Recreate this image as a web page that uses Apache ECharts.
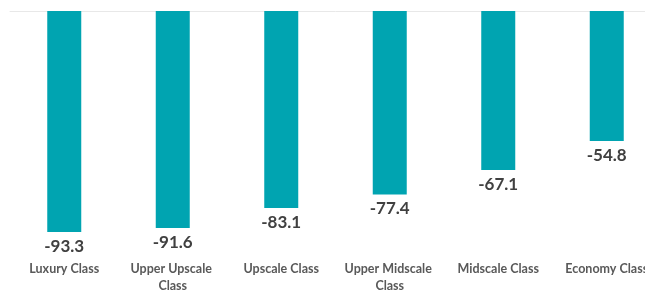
<!DOCTYPE html>
<html>
<head>
<meta charset="utf-8">
<script src="https://cdn.jsdelivr.net/npm/echarts@6/dist/echarts.min.js"></script>
<style>html,body{margin:0;padding:0;background:#fff;overflow:hidden}#c{width:680px;height:294px}</style>
</head>
<body>
<div id="c"></div>
<script>
const categories = ['Luxury Class', 'Upper Upscale Class', 'Upscale Class', 'Upper Midscale Class', 'Midscale Class', 'Economy Class'];
const values = [-93.3, -91.6, -83.1, -77.4, -67.1, -54.8];

const chart = echarts.init(document.getElementById('c'), null, {renderer: 'canvas'});
chart.setOption({
  animation: false,
  backgroundColor: '#ffffff',
  grid: {left: 10, top: 11, width: 651, height: 242, containLabel: false},
  xAxis: [
    {type: 'category', data: categories, position: 'top',
     axisLine: {show: true, lineStyle: {color: '#e8e8e8', width: 1}},
     axisTick: {show: false}, axisLabel: {show: false}},
    {type: 'category', data: categories, position: 'bottom',
     axisLine: {show: false}, axisTick: {show: false},
     axisLabel: {show: true, interval: 0, margin: 12, color: '#595959', fontFamily: 'Lato', fontWeight: 'bold', fontSize: 12.5,
       width: 100, overflow: 'break', lineHeight: 17}}
  ],
  yAxis: {type: 'value', min: -100, max: 0, show: false, splitLine: {show: false}},
  series: [{
    type: 'bar', xAxisIndex: 0, data: values, barWidth: 34,
    itemStyle: {color: '#00a4b1'},
    label: {show: true, position: 'bottom', distance: 6, color: '#404040', fontFamily: 'Lato', fontWeight: 'bold', fontSize: 17,
      formatter: p => p.value.toFixed(1)}
  }]
});
</script>
</body>
</html>
